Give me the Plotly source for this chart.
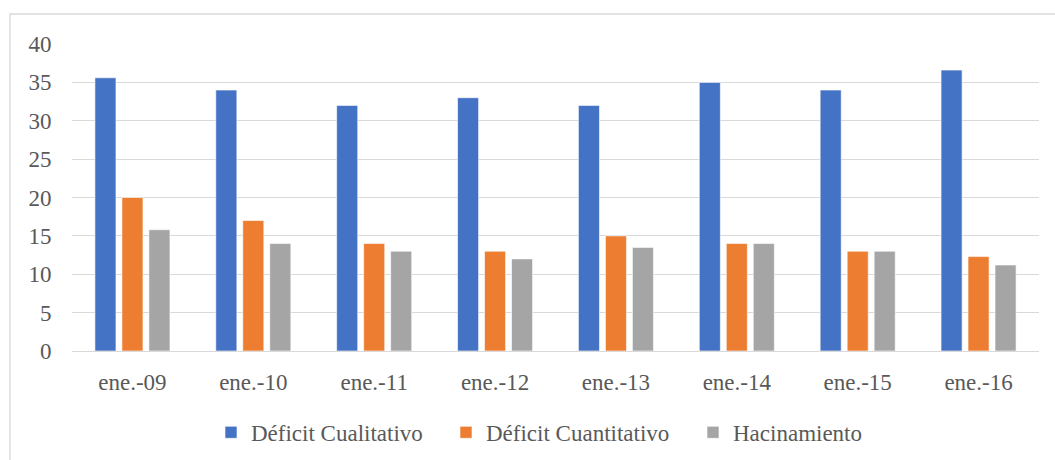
import plotly.graph_objects as go

categories = ["ene.-09", "ene.-10", "ene.-11", "ene.-12", "ene.-13", "ene.-14", "ene.-15", "ene.-16"]
deficit_cualitativo = [35.6, 34, 32, 33, 32, 35, 34, 36.6]
deficit_cuantitativo = [20, 17, 14, 13, 15, 14, 13, 12.3]
hacinamiento = [15.8, 14, 13, 12, 13.5, 14, 13, 11.2]
y_ticks = [0, 5, 10, 15, 20, 25, 30, 35, 40]

series = [
    ("Déficit Cualitativo", deficit_cualitativo, "#4472C4", "legend"),
    ("Déficit Cuantitativo", deficit_cuantitativo, "#ED7D31", "legend2"),
    ("Hacinamiento", hacinamiento, "#A5A5A5", "legend3"),
]

FONT = "Liberation Serif"
FS = 23
W, H = 1055, 460
L, R, T, B = 72, 16, 44, 109
pw, ph = W - L - R, H - T - B

fig = go.Figure()
for name, vals, color, lg in series:
    fig.add_trace(go.Bar(
        x=categories, y=vals, name=name, legend=lg,
        marker=dict(color=color, line=dict(color="white", width=0.6)),
    ))

def px_x(px):
    return (px - L) / pw

def legend_at(left_px):
    return dict(orientation="h", x=px_x(left_px), xanchor="left", y=-0.265, yanchor="middle",
                font=dict(family=FONT, size=FS, color="#595959"), itemwidth=30,
                bgcolor="rgba(0,0,0,0)")

fig.update_layout(
    width=W, height=H,
    margin=dict(l=L, r=R, t=T, b=B, autoexpand=False),
    paper_bgcolor="white", plot_bgcolor="white",
    barmode="group", bargap=0.33, bargroupgap=0.22,
    font=dict(family=FONT, size=FS, color="#595959"),
    showlegend=True,
    legend=legend_at(211),
    legend2=legend_at(446),
    legend3=legend_at(693),
    xaxis=dict(showgrid=False, showline=False, ticks="outside", ticklen=10,
               tickcolor="rgba(0,0,0,0)", tickfont=dict(size=FS, family=FONT), automargin=False),
    yaxis=dict(range=[0, 40], tickvals=y_ticks, showgrid=True, gridcolor="#D9D9D9",
               gridwidth=1.3, zeroline=True, zerolinecolor="#D9D9D9", zerolinewidth=1.3,
               ticks="outside", ticklen=15, tickcolor="rgba(0,0,0,0)",
               tickfont=dict(size=FS, family=FONT), automargin=False),
)

# chart area border (extends past the right and bottom edges like the reference)
x0 = (10 - L) / pw
y1 = 1 + (T - 14) / ph
fig.add_shape(type="rect", xref="paper", yref="paper", x0=x0, x1=1.2, y0=-0.6, y1=y1,
              line=dict(color="#D9D9D9", width=1.3), fillcolor="rgba(0,0,0,0)", layer="below")

fig.write_html("out.html")
